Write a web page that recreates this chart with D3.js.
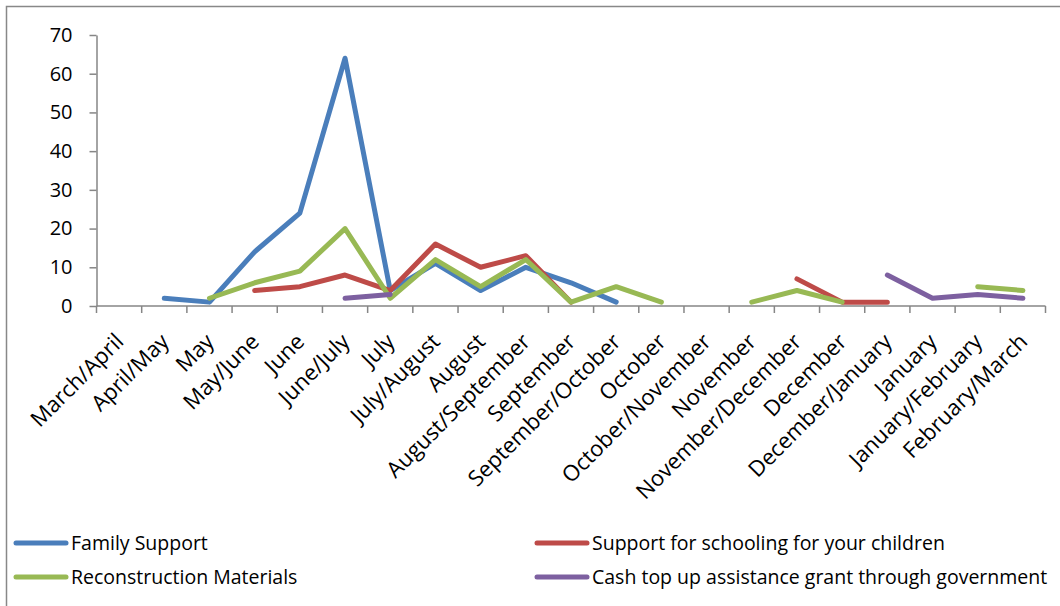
<!DOCTYPE html>
<html>
<head>
<meta charset="utf-8">
<script src="https://cdn.jsdelivr.net/npm/d3@7"></script>
<style>
  body { margin: 0; background: #fff; }
  svg { display: block; font-family: "Open Sans", sans-serif; }
</style>
</head>
<body>
<div id="chart"></div>
<script>
let width = 1060,
    height = 606;

// categories along the x axis
let months = ["March/April", "April/May", "May", "May/June", "June", "June/July", "July",
  "July/August", "August", "August/September", "September", "September/October", "October",
  "October/November", "November", "November/December", "December", "December/January",
  "January", "January/February", "February/March"];

// series values (null = no answer for that period)
let familySupport = [null, 2, 1, 14, 24, 64, 4, 11, 4, 10, 6, 1, null, null, null, null, null, null, null, null, null];
let schooling = [null, null, null, 4, 5, 8, 4, 16, 10, 13, 1, null, null, null, null, 7, 1, 1, null, null, null];
let reconstruction = [null, null, 2, 6, 9, 20, 2, 12, 5, 12, 1, 5, 1, null, 1, 4, 1, null, null, 5, 4];
let cashTopUp = [null, null, null, null, null, 2, 3, null, null, null, null, null, null, null, null, null, null, 8, 2, 3, 2];

let yTicks = [0, 10, 20, 30, 40, 50, 60, 70];

let seriesNames = ["Family Support", "Support for schooling for your children",
  "Reconstruction Materials", "Cash top up assistance grant through government"];
let seriesColors = ["#4A7EBB", "#BE4B48", "#98B954", "#7D60A0"];
let seriesValues = [familySupport, schooling, reconstruction, cashTopUp];

let svg = d3.select("#chart")
    .append("svg")
    .attr("width", width)
    .attr("height", height);

// outer frame
svg.append("rect")
    .attr("x", 6.5)
    .attr("y", 6.5)
    .attr("width", 1200)
    .attr("height", 800)
    .attr("fill", "none")
    .attr("stroke", "#888")
    .attr("stroke-width", 1.5);

let x = d3.scaleBand()
    .domain(months)
    .range([96.5, 1045.5])
    .padding(0);

let y = d3.scaleLinear()
    .domain([0, 70])
    .range([306, 35]);

// y axis
let yAxis = svg.append("g")
    .attr("transform", "translate(96.5,0)")
    .call(d3.axisLeft(y).tickValues(yTicks).tickSize(7).tickPadding(17).tickSizeOuter(0));

yAxis.select(".domain").attr("stroke", "#868686").attr("stroke-width", 1.5);
yAxis.selectAll(".tick line").attr("stroke", "#868686").attr("stroke-width", 1.5);
yAxis.selectAll(".tick text")
    .attr("font-size", 20)
    .attr("font-family", "Open Sans, sans-serif")
    .attr("fill", "#000");

// x axis: line plus ticks on the band edges
let xAxis = svg.append("g");

xAxis.append("line")
    .attr("x1", x.range()[0])
    .attr("x2", x.range()[1])
    .attr("y1", y(0))
    .attr("y2", y(0))
    .attr("stroke", "#868686")
    .attr("stroke-width", 1.5);

let edges = months.map(m => x(m)).concat([x.range()[1]]);

xAxis.selectAll("line.tick")
    .data(edges)
    .enter().append("line")
    .attr("class", "tick")
    .attr("x1", d => d)
    .attr("x2", d => d)
    .attr("y1", y(0))
    .attr("y2", y(0) + 7)
    .attr("stroke", "#868686")
    .attr("stroke-width", 1.5);

xAxis.selectAll("text")
    .data(months)
    .enter().append("text")
    .attr("transform", d => `translate(${x(d) + x.bandwidth() / 2 - 5},${y(0) + 26}) rotate(-45)`)
    .attr("text-anchor", "end")
    .attr("dy", "0.7em")
    .attr("font-size", 22)
    .attr("fill", "#000")
    .text(d => d);

// lines
let line = d3.line()
    .defined(d => d != null)
    .x((d, i) => x(months[i]) + x.bandwidth() / 2)
    .y(d => y(d));

svg.append("g")
    .selectAll("path")
    .data(seriesValues)
    .enter().append("path")
    .attr("d", d => line(d))
    .attr("fill", "none")
    .attr("stroke", (d, i) => seriesColors[i])
    .attr("stroke-width", 5)
    .attr("stroke-linejoin", "round")
    .attr("stroke-linecap", "round");

// legend, two columns
let legendPos = [[16, 543], [537, 543], [16, 577], [537, 577]];

let legend = svg.append("g")
    .selectAll("g")
    .data(seriesNames)
    .enter().append("g")
    .attr("transform", (d, i) => `translate(${legendPos[i][0]},${legendPos[i][1]})`);

legend.append("line")
    .attr("x1", 0)
    .attr("x2", 50)
    .attr("stroke", (d, i) => seriesColors[i])
    .attr("stroke-width", 5)
    .attr("stroke-linecap", "round");

legend.append("text")
    .attr("x", 55)
    .attr("dy", "0.36em")
    .attr("font-size", 19.5)
    .attr("fill", "#000")
    .text(d => d);
</script>
</body>
</html>
